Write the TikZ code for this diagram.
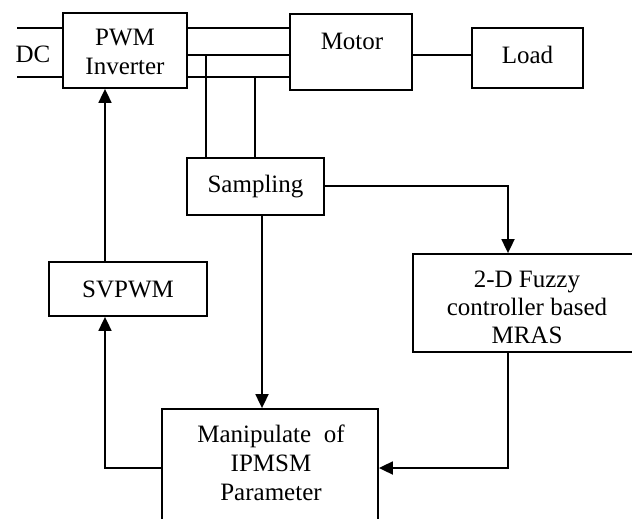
\documentclass[tikz,border=0pt]{standalone}
\usepackage{fontspec}
\setmainfont{Liberation Serif}
\usetikzlibrary{arrows.meta}
\begin{document}
\begin{tikzpicture}[x=1pt,y=-1pt,
  every node/.style={font=\fontsize{25}{30}\selectfont},
  blk/.style={draw, line width=1.8pt, inner sep=0pt, align=center},
  wire/.style={line width=1.8pt},
  arr/.style={wire, -{Triangle[width=13pt,length=14pt]}}]
\useasboundingbox (0,0) rectangle (632,519);
\clip (0,0) rectangle (632,519);

% blocks
\node[blk, minimum width=124pt, minimum height=75pt] (pwm) at (125,50.5) {};
\node at (125,52) [align=center] {PWM\\[-1pt]Inverter};
\node[blk, minimum width=122pt, minimum height=76pt] (motor) at (351,52) {};
\node at (352,41) {Motor};
\node[blk, minimum width=111pt, minimum height=60pt] (load) at (527.5,58) {};
\node at (527.5,55) {Load};
\node[blk, minimum width=137pt, minimum height=57pt] (samp) at (255.5,186.5) {Sampling};
\node[blk, minimum width=158pt, minimum height=54pt] (svpwm) at (128,289) {SVPWM};
\node[blk, minimum width=228pt, minimum height=98pt] (fuzzy) at (527,303) {};
\node at (527,307) [align=center] {2-D Fuzzy\\[-2pt]controller based\\[-2pt]MRAS};
\node[blk, minimum width=216pt, minimum height=131pt] (manip) at (270,474.5) {};
\node at (271,463) [align=center] {Manipulate~~of\\[-1pt]IPMSM\\[-1pt]Parameter};
\node (dc) at (33,54) {DC};

% reference coordinates for wire positions
\coordinate (dca) at (17,28);
\coordinate (dcb) at (17,77);
\coordinate (ph1) at (0,28);
\coordinate (ph2) at (0,55);
\coordinate (ph3) at (0,77);
\coordinate (tapa) at (206,55);
\coordinate (tapb) at (255,77);
\coordinate (sx) at (262,0);
\coordinate (fx) at (508,0);
\coordinate (fb) at (0,468);
\coordinate (vx) at (105,0);

% DC supply
\draw[wire] (dca) -- (dca -| pwm.west);
\draw[wire] (dcb) -- (dcb -| pwm.west);

% three phase lines to motor
\draw[wire] (pwm.east |- ph1) -- (motor.west |- ph1);
\draw[wire] (pwm.east |- ph2) -- (motor.west |- ph2);
\draw[wire] (pwm.east |- ph3) -- (motor.west |- ph3);
\draw[wire] (motor.east |- ph2) -- (load.west |- ph2);

% current sampling taps
\draw[wire] (tapa) -- (tapa |- samp.north);
\draw[wire] (tapb) -- (tapb |- samp.north);

% signal flow
\draw[arr] (samp.east |- 0,186) -| (fuzzy.north -| fx);
\draw[arr] (fuzzy.south -| fx) |- (manip.east |- fb);
\draw[arr] (samp.south -| sx) -- (manip.north -| sx);
\draw[arr] (manip.west |- fb) -| (svpwm.south -| vx);
\draw[arr] (svpwm.north -| vx) -- (pwm.south -| vx);
\end{tikzpicture}
\end{document}
